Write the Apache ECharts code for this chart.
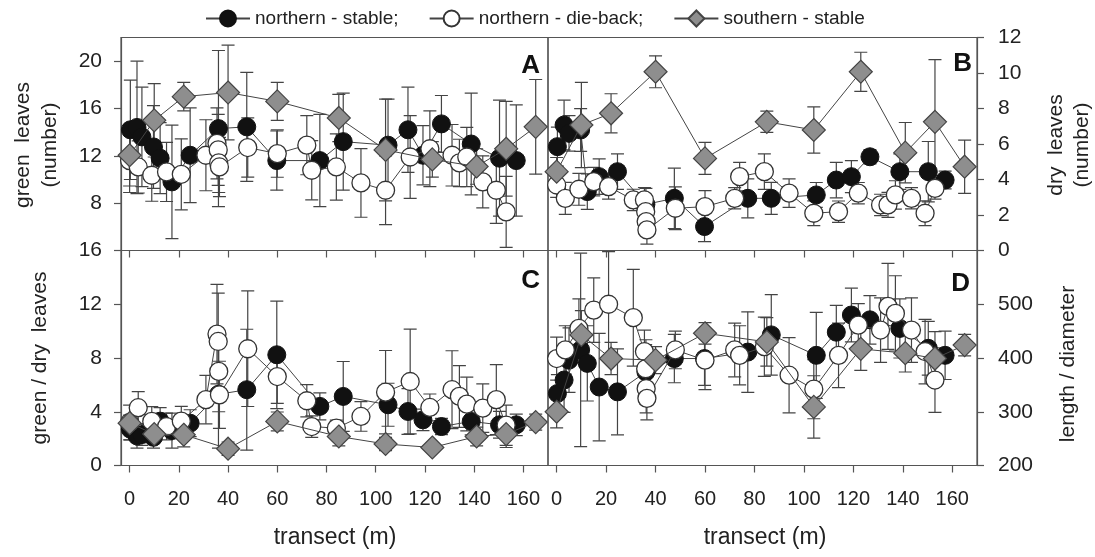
<!DOCTYPE html>
<html><head><meta charset="utf-8">
<script src="https://cdn.jsdelivr.net/npm/echarts@6/dist/echarts.min.js"></script>
<style>html,body{margin:0;padding:0;background:#fff}#c{width:1095px;height:557px}</style>
</head><body><div id="c"></div>
<script>
// transect positions (m) for each group
const xStable  = [0.3, 3, 5, 9.7, 12.4, 17.2, 24.6, 36.1, 47.6, 59.8, 77.3, 86.8, 105, 113.1, 119.2, 126.7, 138.8, 150.3, 157.1];
const xDieback = [0, 3.5, 9, 15, 21, 31, 35.5, 36, 36.2, 36.5, 48, 60, 72, 74, 84, 94, 104, 114, 122, 131, 134, 137, 143.5, 149, 153];
const xSouth   = [0, 10, 22, 40, 60, 85, 104, 123, 141, 153, 165];

// A: green leaves (number)
const aStable     = [14.2, 14.4, 13.6, 12.75, 11.8, 9.8, 12.05, 14.3, 14.45, 11.6, 11.6, 13.2, 12.9, 14.2, 12.05, 14.7, 13.0, 11.8, 11.6];
const aStableErr  = [4.2, 5.6, 4.2, 3.5, 3.0, 4.8, 4.0, 6.6, 4.6, 2.5, 3.9, 4.1, 3.9, 3.6, 2.5, 2.4, 4.3, 4.9, 4.7];
const aDieback    = [11.6, 11.06, 10.36, 10.64, 10.44, 12.05, 13.05, 12.5, 11.4, 11.06, 12.7, 12.19, 12.9, 10.78, 11.06, 9.71, 9.09, 11.9, 12.6, 12.05, 11.4, 11.9, 9.8, 9.09, 7.26];
const aDiebackErr = [2.7, 2.2, 2.2, 2.5, 3.0, 3.0, 3.0, 3.0, 2.5, 2.5, 2.5, 2.0, 2.5, 2.5, 2.8, 2.9, 2.9, 3.5, 3.2, 2.6, 2.0, 2.5, 2.2, 2.8, 3.0];
const aSouth      = [12.05, 15.0, 17.0, 17.35, 16.6, 15.2, 12.5, 11.7, 11.1, 12.6, 14.45];
const aSouthErr   = [2.6, 3.1, 1.2, 4.0, 1.6, 2.0, 4.3, 1.5, 1.5, 4.0, 4.0];

// B: dry leaves (number)
const bStable     = [5.85, 7.07, 6.6, 6.79, 3.32, 4.16, 4.44, 2.6, 2.94, 1.35, 2.94, 2.94, 3.13, 3.97, 4.16, 5.28, 4.44, 4.44, 3.97];
const bStableErr  = [1.1, 1.4, 1.0, 1.2, 1.0, 1.0, 1.0, 0.9, 1.7, 0.85, 1.1, 0.9, 0.7, 1.0, 0.9, 0.4, 1.0, 1.7, 0.5];
const bDieback    = [3.69, 2.94, 3.45, 3.88, 3.6, 2.85, 2.85, 2.19, 1.63, 1.16, 2.38, 2.47, 2.94, 4.16, 4.44, 3.23, 2.1, 2.19, 3.23, 2.57, 2.57, 3.13, 2.94, 2.1, 3.5];
const bDiebackErr = [0.7, 0.9, 0.9, 0.8, 0.7, 0.6, 0.7, 0.7, 0.7, 0.8, 1.2, 0.9, 0.6, 0.8, 1.0, 0.8, 0.7, 0.6, 0.6, 0.6, 0.7, 0.8, 0.6, 0.7, 0.6];
const bSouth      = [4.44, 7.07, 7.73, 10.07, 5.19, 7.25, 6.79, 10.07, 5.51, 7.25, 4.72];
const bSouthErr   = [0.8, 2.4, 1.1, 0.9, 0.9, 0.6, 1.3, 1.1, 1.7, 3.5, 1.5];

// C: green / dry leaves
const cStable     = [2.7, 2.2, 2.3, 2.1, 3.3, 2.6, 3.15, 5.3, 5.64, 8.24, 4.4, 5.14, 4.52, 4.02, 3.4, 2.9, 3.28, 3.03, 3.03];
const cStableErr  = [0.8, 0.9, 0.8, 0.8, 1.0, 1.3, 1.0, 4.0, 4.5, 4.0, 1.0, 2.6, 1.6, 1.7, 0.8, 0.6, 1.0, 1.0, 0.8];
const cDieback    = [3.2, 4.3, 3.28, 2.9, 3.3, 4.9, 9.78, 9.23, 7.0, 5.26, 8.69, 6.62, 4.82, 2.9, 2.78, 3.65, 5.46, 6.25, 4.32, 5.64, 5.14, 4.57, 4.27, 4.9, 3.0];
const cDiebackErr = [1.3, 1.2, 1.1, 1.0, 1.1, 1.8, 3.7, 3.6, 3.0, 2.5, 4.3, 2.0, 1.2, 0.8, 0.6, 1.1, 3.1, 3.9, 1.0, 2.9, 2.3, 2.0, 1.8, 2.6, 1.5];
const cSouth      = [3.15, 2.34, 2.29, 1.25, 3.28, 2.16, 1.6, 1.34, 2.16, 2.34, 3.23];
const cSouthErr   = [0.6, 0.5, 0.9, 0.5, 0.7, 0.7, 0.5, 0.3, 0.7, 1.0, 0.6];

// D: length / diameter
const dStable     = [334, 359, 396, 415, 390, 346, 337, 374, 399, 399, 411, 443, 405, 448, 480, 471, 455, 418, 405];
const dStableErr  = [35, 60, 60, 180, 70, 100, 80, 60, 45, 50, 75, 75, 80, 50, 50, 45, 55, 50, 45];
const dDieback    = [399, 415, 455, 489, 500, 475, 412, 380, 343, 325, 415, 396, 415, 405, 421, 368, 342, 405, 461, 452, 496, 483, 452, 412, 359];
const dDiebackErr = [40, 45, 55, 60, 98, 90, 40, 45, 45, 40, 35, 55, 50, 55, 55, 70, 55, 60, 40, 60, 80, 70, 60, 60, 60];
const dSouth      = [300, 443, 399, 396, 446, 430, 309, 417, 409, 399, 424];
const dSouthErr   = [30, 45, 30, 25, 20, 45, 58, 40, 35, 50, 20];

const xTicks = [0, 20, 40, 60, 80, 100, 120, 140, 160];
const names = ['northern - stable;', 'northern - die-back;', 'southern - stable'];

const FONT = 'Liberation Sans, Arial, sans-serif';
const AX = '#555';

const chart = echarts.init(document.getElementById('c'), null, {renderer: 'canvas'});

const grids = [
  {left: 121, top: 37.5, width: 427, height: 213},
  {left: 548, top: 37.5, width: 429, height: 213},
  {left: 121, top: 250.5, width: 427, height: 215},
  {left: 548, top: 250.5, width: 429, height: 215}
].map(g => Object.assign({show: true, borderColor: AX, borderWidth: 1.2, containLabel: false}, g));

function xAxis(i, labels) {
  return {
    type: 'value', gridIndex: i, min: -3.5, max: 170, position: 'bottom',
    axisLine: {show: true, onZero: false, lineStyle: {color: AX, width: 1.2}},
    axisTick: {show: true, length: 7, inside: false, customValues: xTicks, lineStyle: {color: AX, width: 1.2}},
    axisLabel: {show: labels, customValues: xTicks, margin: 24, fontSize: 20, color: '#222', fontFamily: FONT},
    splitLine: {show: false}
  };
}
function yAxis(i, pos, min, max, ticks, labels) {
  return {
    type: 'value', gridIndex: i, position: pos, min: min, max: max,
    axisLine: {show: true, onZero: false, lineStyle: {color: AX, width: 1.2}},
    axisTick: {show: true, length: 7, inside: false, customValues: ticks, lineStyle: {color: AX, width: 1.2}},
    axisLabel: {show: true, customValues: labels, margin: pos === 'left' ? 19 : 21, fontSize: 21, color: '#222', fontFamily: FONT},
    splitLine: {show: false}
  };
}

function ebRender(params, api) {
  const x = api.value(0);
  const lo = api.coord([x, api.value(1)]);
  const hi = api.coord([x, api.value(2)]);
  const cw = 6.5;
  const st = {stroke: '#444', lineWidth: 1.2, fill: null};
  return {type: 'group', children: [
    {type: 'line', shape: {x1: lo[0], y1: lo[1], x2: hi[0], y2: hi[1]}, style: st},
    {type: 'line', shape: {x1: lo[0] - cw, y1: lo[1], x2: lo[0] + cw, y2: lo[1]}, style: st},
    {type: 'line', shape: {x1: hi[0] - cw, y1: hi[1], x2: hi[0] + cw, y2: hi[1]}, style: st}
  ]};
}

const styles = [
  {symbol: 'circle', size: 18, itemStyle: {color: '#111', borderColor: '#111', borderWidth: 1}, z: 3},
  {symbol: 'circle', size: 18, itemStyle: {color: '#fff', borderColor: '#333', borderWidth: 1.3}, z: 4},
  {symbol: 'diamond', size: [23, 23], itemStyle: {color: '#8e8e8e', borderColor: '#444', borderWidth: 1.2}, z: 5}
];

const panelData = [
  [[xStable, aStable, aStableErr], [xDieback, aDieback, aDiebackErr], [xSouth, aSouth, aSouthErr]],
  [[xStable, bStable, bStableErr], [xDieback, bDieback, bDiebackErr], [xSouth, bSouth, bSouthErr]],
  [[xStable, cStable, cStableErr], [xDieback, cDieback, cDiebackErr], [xSouth, cSouth, cSouthErr]],
  [[xStable, dStable, dStableErr], [xDieback, dDieback, dDiebackErr], [xSouth, dSouth, dSouthErr]]
];

const series = [];
panelData.forEach((groups, p) => {
  groups.forEach((g, k) => {
    const [xs, ys, es] = g;
    series.push({
      type: 'custom', xAxisIndex: p, yAxisIndex: p, z: 2, silent: true,
      renderItem: ebRender, clip: true,
      encode: {x: 0, y: [1, 2]},
      data: xs.map((x, i) => [x, ys[i] - es[i], ys[i] + es[i]])
    });
  });
  groups.forEach((g, k) => {
    const [xs, ys] = g;
    const s = styles[k];
    series.push({
      type: 'line', name: names[k], xAxisIndex: p, yAxisIndex: p, z: s.z,
      symbol: s.symbol, symbolSize: s.size, showAllSymbol: true,
      itemStyle: s.itemStyle,
      lineStyle: {color: '#444', width: 1},
      emphasis: {disabled: true}, animation: false,
      data: xs.map((x, i) => [x, ys[i]])
    });
  });
});

const option = {
  animation: false,
  textStyle: {fontFamily: FONT},
  grid: grids,
  xAxis: [xAxis(0, false), xAxis(1, false), xAxis(2, true), xAxis(3, true)],
  yAxis: [
    yAxis(0, 'left', 4, 22, [8, 12, 16, 20], [8, 12, 16, 20]),
    yAxis(1, 'right', 0, 12, [0, 2, 4, 6, 8, 10, 12], [0, 2, 4, 6, 8, 10, 12]),
    yAxis(2, 'left', 0, 16, [0, 4, 8, 12, 16], [0, 4, 8, 12, 16]),
    yAxis(3, 'right', 200, 600, [200, 300, 400, 500], [200, 300, 400, 500])
  ],
  legend: {
    data: names, left: 200, top: 4, itemWidth: 44, itemHeight: 20, itemGap: 30,
    textStyle: {fontSize: 19, color: '#222', fontFamily: FONT}, selectedMode: false
  },
  graphic: [
    {type: 'text', x: 23, y: 145, rotation: Math.PI / 2, style: {text: 'green  leaves', font: '21px ' + FONT, fill: '#222', align: 'center', verticalAlign: 'middle'}},
    {type: 'text', x: 50, y: 145, rotation: Math.PI / 2, style: {text: '(number)', font: '21px ' + FONT, fill: '#222', align: 'center', verticalAlign: 'middle'}},
    {type: 'text', x: 40, y: 358, rotation: Math.PI / 2, style: {text: 'green / dry  leaves', font: '21px ' + FONT, fill: '#222', align: 'center', verticalAlign: 'middle'}},
    {type: 'text', x: 1056, y: 145, rotation: Math.PI / 2, style: {text: 'dry  leaves', font: '21px ' + FONT, fill: '#222', align: 'center', verticalAlign: 'middle'}},
    {type: 'text', x: 1082, y: 145, rotation: Math.PI / 2, style: {text: '(number)', font: '21px ' + FONT, fill: '#222', align: 'center', verticalAlign: 'middle'}},
    {type: 'text', x: 1068, y: 364, rotation: Math.PI / 2, style: {text: 'length / diameter', font: '21px ' + FONT, fill: '#222', align: 'center', verticalAlign: 'middle'}},
    {type: 'text', x: 335, y: 538, style: {text: 'transect (m)', font: '23px ' + FONT, fill: '#222', align: 'center', verticalAlign: 'middle'}},
    {type: 'text', x: 765, y: 538, style: {text: 'transect (m)', font: '23px ' + FONT, fill: '#222', align: 'center', verticalAlign: 'middle'}},
    {type: 'text', x: 540, y: 66, style: {text: 'A', font: 'bold 26px ' + FONT, fill: '#111', align: 'right', verticalAlign: 'middle'}},
    {type: 'text', x: 972, y: 64, style: {text: 'B', font: 'bold 26px ' + FONT, fill: '#111', align: 'right', verticalAlign: 'middle'}},
    {type: 'text', x: 540, y: 281, style: {text: 'C', font: 'bold 26px ' + FONT, fill: '#111', align: 'right', verticalAlign: 'middle'}},
    {type: 'text', x: 970, y: 284, style: {text: 'D', font: 'bold 26px ' + FONT, fill: '#111', align: 'right', verticalAlign: 'middle'}}
  ],
  series: series
};
chart.setOption(option);
</script></body></html>
